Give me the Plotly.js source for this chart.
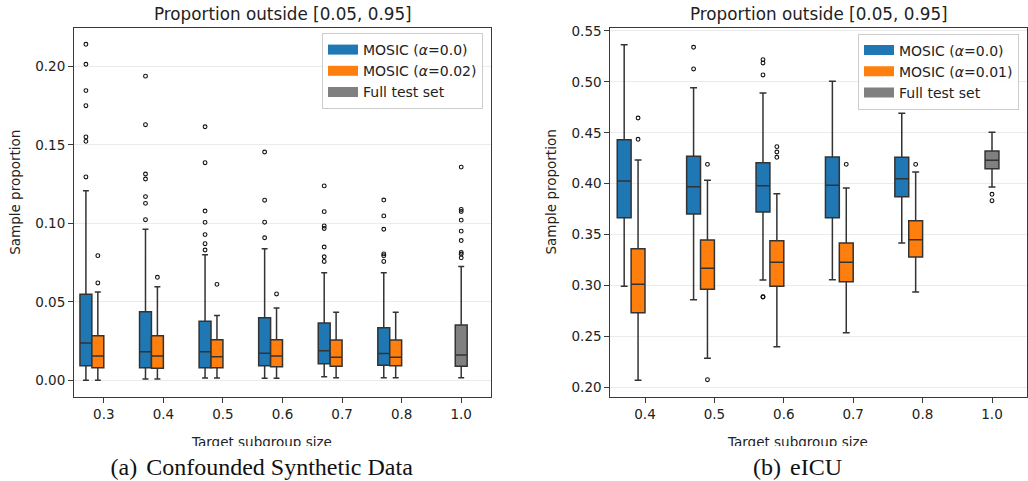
<!DOCTYPE html>
<html><head><meta charset="utf-8">
<script src="https://cdn.plot.ly/plotly-3.0.1.min.js"></script>
<style>
html,body{margin:0;padding:0;background:#fff;}
#wrap{position:relative;width:1028px;height:481px;overflow:hidden;}
#chart{position:absolute;left:0;top:0;width:1028px;height:481px;}
#caps{position:absolute;left:0;top:446px;width:1028px;height:35px;background:#fff;}
.cap{position:absolute;top:9px;font-family:"Liberation Serif","Times New Roman",serif;font-size:24px;line-height:24px;color:#111;white-space:nowrap;transform:translateX(-50%);}
.gap{display:inline-block;width:9px;}
</style></head>
<body>
<div id="wrap">
<div id="chart"></div>
<div id="caps">
<div class="cap" style="left:261.7px">(a)<span class="gap"></span>Confounded Synthetic Data</div>
<div class="cap" style="left:797.5px">(b)<span class="gap"></span>eICU</div>
</div>
</div>
<script>
// ---------- (a) Confounded Synthetic Data ----------
const synthTicks = ['0.3','0.4','0.5','0.6','0.7','0.8','1.0'];
const synthMosicCats = ['0.3','0.4','0.5','0.6','0.7','0.8'];
const synthFullCats = ['1.0'];

const synthA0_lo  = [0.0000, 0.0008, 0.0015, 0.0013, 0.0022, 0.0017];
const synthA0_q1  = [0.0093, 0.0080, 0.0080, 0.0093, 0.0105, 0.0096];
const synthA0_med = [0.0238, 0.0182, 0.0182, 0.0172, 0.0188, 0.0170];
const synthA0_q3  = [0.0548, 0.0437, 0.0376, 0.0399, 0.0365, 0.0335];
const synthA0_hi  = [0.1208, 0.0962, 0.0800, 0.0838, 0.0685, 0.0685];
const synthA0_out = [
  [0.2140, 0.2013, 0.1845, 0.1749, 0.1550, 0.1522, 0.1295],
  [0.1937, 0.1628, 0.1314, 0.1282, 0.1170, 0.1127, 0.1023],
  [0.1615, 0.1386, 0.1078, 0.1006, 0.0928, 0.0870, 0.0830],
  [0.1454, 0.1147, 0.1007, 0.0908],
  [0.1238, 0.1074, 0.0983, 0.0967, 0.0849, 0.0787, 0.0757],
  [0.1148, 0.1047, 0.0962, 0.0805, 0.0793, 0.0757]
];

const synthA2_lo  = [0.0000, 0.0008, 0.0015, 0.0013, 0.0017, 0.0017];
const synthA2_q1  = [0.0080, 0.0076, 0.0080, 0.0087, 0.0089, 0.0093];
const synthA2_med = [0.0155, 0.0154, 0.0150, 0.0155, 0.0147, 0.0147];
const synthA2_q3  = [0.0284, 0.0284, 0.0259, 0.0259, 0.0257, 0.0257];
const synthA2_hi  = [0.0562, 0.0596, 0.0412, 0.0460, 0.0433, 0.0433];
const synthA2_out = [[0.0794, 0.0620], [0.0656], [0.0611], [0.0550], [], []];

const synthFull_lo  = [0.0017];
const synthFull_q1  = [0.0089];
const synthFull_med = [0.0161];
const synthFull_q3  = [0.0352];
const synthFull_hi  = [0.0724];
const synthFull_out = [[0.1358, 0.1088, 0.1075, 0.1020, 0.0950, 0.0890, 0.0815, 0.0804, 0.0780]];
const synthYTicks = [0.00, 0.05, 0.10, 0.15, 0.20];

// ---------- (b) eICU ----------
const icuTicks = ['0.4','0.5','0.6','0.7','0.8','1.0'];
const icuMosicCats = ['0.4','0.5','0.6','0.7','0.8'];
const icuFullCats = ['1.0'];

const icuA0_lo  = [0.2992, 0.2860, 0.3054, 0.3057, 0.3418];
const icuA0_q1  = [0.3665, 0.3702, 0.3722, 0.3665, 0.3872];
const icuA0_med = [0.4027, 0.3970, 0.3980, 0.3984, 0.4049];
const icuA0_q3  = [0.4432, 0.4269, 0.4206, 0.4262, 0.4259];
const icuA0_hi  = [0.5365, 0.4943, 0.4891, 0.5006, 0.4692];
const icuA0_out = [[], [0.5340, 0.5127], [0.5218, 0.5186, 0.5068, 0.2887, 0.2890], [], []];

const icuA1_lo  = [0.2069, 0.2285, 0.2399, 0.2536, 0.2936];
const icuA1_q1  = [0.2733, 0.2963, 0.2992, 0.3037, 0.3280];
const icuA1_med = [0.3012, 0.3169, 0.3228, 0.3228, 0.3450];
const icuA1_q3  = [0.3362, 0.3447, 0.3440, 0.3418, 0.3637];
const icuA1_hi  = [0.4233, 0.4033, 0.3902, 0.3958, 0.4115];
const icuA1_out = [[0.4645, 0.4436], [0.4190, 0.2075], [0.4364, 0.4311, 0.4259], [0.4190], [0.4190]];

const icuFull_lo  = [0.3968];
const icuFull_q1  = [0.4147];
const icuFull_med = [0.4230];
const icuFull_q3  = [0.4321];
const icuFull_hi  = [0.4505];
const icuFull_out = [[0.3896, 0.3833]];
const icuYTicks = [0.20, 0.25, 0.30, 0.35, 0.40, 0.45, 0.50, 0.55];

// ---------- styling ----------
const BLUE = '#1f77b4', ORANGE = '#ff7f0e', GRAY = '#808080';
const EDGE = '#333333', AXC = '#3a3a3a', TXT = '#222222';
const FONT = 'DejaVu Sans, Liberation Sans, sans-serif';
const W = 1028, H = 481;
const px = v => v / W, py = v => 1 - v / H;

function boxes(ticks, cats, off, lo, q1, med, q3, hi, out, color, xa, ya) {
  const pos = cats.map(c => ticks.indexOf(c) + off);
  const traces = [{
    type: 'box', x: pos, lowerfence: lo, q1: q1, median: med, q3: q3, upperfence: hi,
    width: 0.2, whiskerwidth: 0.5, fillcolor: color, line: {color: EDGE, width: 1.5},
    boxpoints: false, showlegend: false, xaxis: xa, yaxis: ya, hoverinfo: 'y'
  }];
  const ox = [], oy = [];
  out.forEach((arr, i) => arr.forEach(v => { ox.push(pos[i]); oy.push(v); }));
  traces.push({
    type: 'scatter', mode: 'markers', x: ox, y: oy, xaxis: xa, yaxis: ya, showlegend: false,
    marker: {symbol: 'circle-open', size: 3.8, color: '#111', line: {width: 1.1}}, hoverinfo: 'y'
  });
  return traces;
}
function legendEntry(name, color, xa, ya, lg) {
  return {type: 'scatter', mode: 'lines', x: [null], y: [null], name: name, xaxis: xa, yaxis: ya,
    legend: lg, showlegend: true, line: {color: color, width: 10}};
}

const data = [].concat(
  boxes(synthTicks, synthMosicCats, -0.3, synthA0_lo, synthA0_q1, synthA0_med, synthA0_q3, synthA0_hi, synthA0_out, BLUE, 'x', 'y'),
  boxes(synthTicks, synthMosicCats, -0.1, synthA2_lo, synthA2_q1, synthA2_med, synthA2_q3, synthA2_hi, synthA2_out, ORANGE, 'x', 'y'),
  boxes(synthTicks, synthFullCats, 0, synthFull_lo, synthFull_q1, synthFull_med, synthFull_q3, synthFull_hi, synthFull_out, GRAY, 'x', 'y'),
  boxes(icuTicks, icuMosicCats, -0.3, icuA0_lo, icuA0_q1, icuA0_med, icuA0_q3, icuA0_hi, icuA0_out, BLUE, 'x2', 'y2'),
  boxes(icuTicks, icuMosicCats, -0.1, icuA1_lo, icuA1_q1, icuA1_med, icuA1_q3, icuA1_hi, icuA1_out, ORANGE, 'x2', 'y2'),
  boxes(icuTicks, icuFullCats, 0, icuFull_lo, icuFull_q1, icuFull_med, icuFull_q3, icuFull_hi, icuFull_out, GRAY, 'x2', 'y2'),
  [
    legendEntry('MOSIC (<i>α</i>=0.0)', BLUE, 'x', 'y', 'legend'),
    legendEntry('MOSIC (<i>α</i>=0.02)', ORANGE, 'x', 'y', 'legend'),
    legendEntry('Full test set', GRAY, 'x', 'y', 'legend'),
    legendEntry('MOSIC (<i>α</i>=0.0)', BLUE, 'x2', 'y2', 'legend2'),
    legendEntry('MOSIC (<i>α</i>=0.01)', ORANGE, 'x2', 'y2', 'legend2'),
    legendEntry('Full test set', GRAY, 'x2', 'y2', 'legend2')
  ]
);

const tickFont = {family: FONT, size: 13.5, color: TXT};
function xAxis(domain, ticks, yref) {
  return {domain: domain, anchor: yref, range: [-0.5, ticks.length - 0.5],
    tickmode: 'array', tickvals: ticks.map((t, i) => i), ticktext: ticks,
    ticks: 'outside', ticklen: 5, tickwidth: 1, tickcolor: AXC,
    showline: true, mirror: true, linecolor: AXC, linewidth: 1,
    showgrid: false, zeroline: false, tickfont: tickFont, fixedrange: true};
}
function yAxis(domain, range, tv, xref) {
  return {domain: domain, anchor: xref, range: range,
    tickmode: 'array', tickvals: tv, ticktext: tv.map(v => v.toFixed(2)),
    ticks: 'outside', ticklen: 5, tickwidth: 1, tickcolor: AXC,
    showline: true, mirror: true, linecolor: AXC, linewidth: 1,
    showgrid: true, gridcolor: '#ebebeb', gridwidth: 1, zeroline: false,
    tickfont: tickFont, fixedrange: true};
}
const yDom = [py(397), py(27.5)];
const legendStyle = {bgcolor: 'rgba(255,255,255,0.85)', bordercolor: '#cccccc', borderwidth: 1,
  font: {family: FONT, size: 14, color: TXT}, xanchor: 'right', yanchor: 'top', itemwidth: 30, traceorder: 'normal'};

function ann(text, x, y, size, extra) {
  return Object.assign({text: text, x: x, y: y, xref: 'paper', yref: 'paper', showarrow: false,
    xanchor: 'center', yanchor: 'middle', font: {family: FONT, size: size, color: TXT}}, extra || {});
}

const layout = {
  width: W, height: H, margin: {l: 0, r: 0, t: 0, b: 0},
  paper_bgcolor: '#ffffff', plot_bgcolor: '#ffffff', boxmode: 'overlay',
  xaxis: xAxis([px(74), px(491)], synthTicks, 'y'),
  yaxis: yAxis(yDom, [-0.01064, 0.2247], synthYTicks, 'x'),
  xaxis2: xAxis([px(610.3), px(1026.7)], icuTicks, 'y2'),
  yaxis2: yAxis(yDom, [0.1905, 0.5534], icuYTicks, 'x2'),
  legend: Object.assign({x: px(483), y: py(33)}, legendStyle),
  legend2: Object.assign({x: px(1019), y: py(33.5)}, legendStyle),
  annotations: [
    ann('Proportion outside [0.05, 0.95]', px(282.5), py(14.2), 16.8),
    ann('Proportion outside [0.05, 0.95]', px(818.5), py(14.2), 16.8),
    ann('Sample proportion', px(14.3), py(192.5), 13.5, {textangle: -90}),
    ann('Sample proportion', px(550), py(192.5), 13.5, {textangle: -90}),
    ann('Target subgroup size', px(261.7), py(441.8), 13.5),
    ann('Target subgroup size', px(797.8), py(441.8), 13.5)
  ]
};

Plotly.newPlot('chart', data, layout, {displayModeBar: false, staticPlot: true});
</script>
</body></html>
